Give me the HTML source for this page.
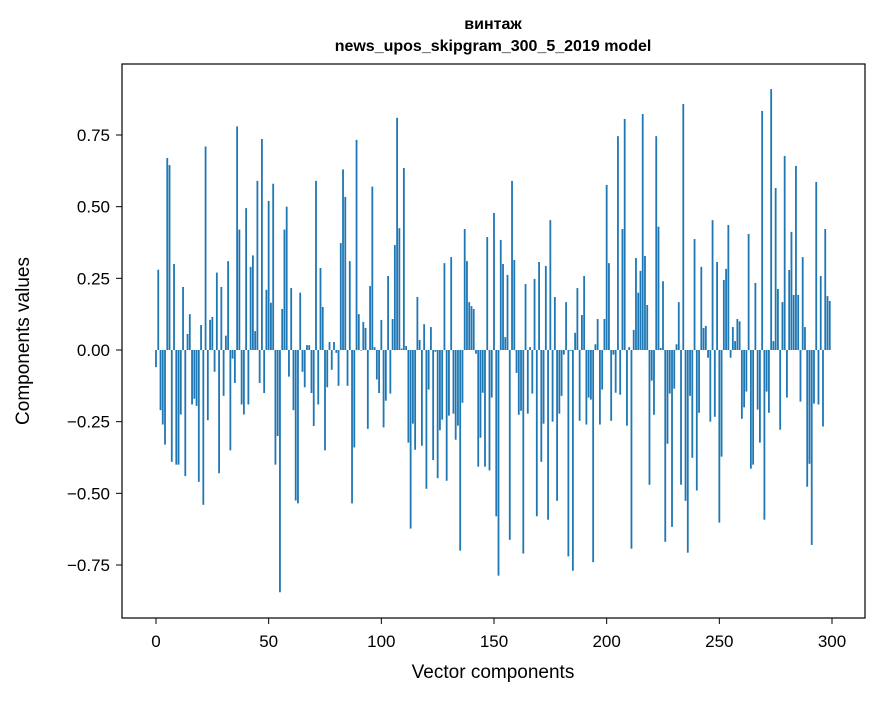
<!DOCTYPE html>
<html><head><meta charset="utf-8"><style>
body{margin:0;background:#fff;}
svg text{font-family:"Liberation Sans","DejaVu Sans",sans-serif;fill:#000;}
</style></head><body>
<svg id="chart" width="880" height="696" xmlns="http://www.w3.org/2000/svg">
<rect x="0" y="0" width="880" height="696" fill="#fff"/>
<text x="493" y="29" text-anchor="middle" font-size="16" font-weight="bold">винтаж</text>
<text x="493" y="51" text-anchor="middle" font-size="16" font-weight="bold">news_upos_skipgram_300_5_2019 model</text>
<g id="bars"></g>
<rect x="122" y="64" width="743" height="554" fill="none" stroke="#000" stroke-width="1.2"/>
<g id="xt"></g>
<g id="yt"></g>
<text x="493" y="678" text-anchor="middle" font-size="19">Vector components</text>
<text transform="translate(29,341) rotate(-90)" text-anchor="middle" font-size="19">Components values</text>
</svg>
<script>
const values = [
-0.06,0.28,-0.21,-0.26,-0.33,0.67,0.645,-0.39,0.30,-0.40,
-0.40,-0.225,0.22,-0.44,0.056,0.125,-0.19,-0.17,-0.195,-0.46,
0.087,-0.54,0.71,-0.245,0.105,0.115,-0.076,0.27,-0.43,0.22,
-0.16,0.05,0.31,-0.35,-0.03,-0.115,0.78,0.42,-0.19,-0.225,
0.495,-0.19,0.29,0.33,0.066,0.59,-0.115,0.736,-0.15,0.21,
0.52,0.165,0.58,-0.40,-0.30,-0.845,0.143,0.42,0.50,-0.093,
0.216,-0.21,-0.525,-0.535,0.2,-0.076,-0.13,0.017,0.017,-0.15,
-0.265,0.59,-0.19,0.286,0.15,-0.35,-0.13,0.028,-0.069,0.028,
-0.01,-0.125,0.373,0.63,0.534,-0.125,0.31,-0.535,-0.34,0.733,
0.125,-0.002,0.098,0.077,-0.275,0.223,0.57,0.01,-0.103,-0.15,
0.105,-0.27,-0.177,0.258,-0.152,0.108,0.366,0.81,0.425,0.005,
0.635,0.014,-0.323,-0.623,-0.257,-0.348,0.185,0.035,-0.334,0.09,
-0.484,-0.138,0.08,-0.384,-0.006,-0.447,-0.28,-0.243,0.303,-0.456,
-0.229,0.324,-0.222,-0.313,-0.264,-0.70,-0.184,0.422,0.31,0.167,
0.153,0.143,-0.013,-0.407,-0.306,-0.149,-0.407,0.394,-0.42,-0.166,
0.478,-0.58,-0.787,0.384,0.3,0.045,0.262,-0.662,0.59,0.314,
-0.08,-0.226,-0.212,-0.71,0.23,-0.222,0.01,-0.152,0.248,-0.58,
0.307,-0.39,-0.257,0.293,-0.592,0.453,-0.25,0.185,-0.526,-0.222,
-0.16,-0.016,0.167,-0.72,-0.003,-0.77,0.06,0.216,-0.247,0.122,
0.258,-0.26,-0.166,-0.173,-0.74,0.02,0.108,-0.26,-0.138,0.108,
0.576,0.303,-0.247,-0.016,-0.149,0.746,-0.156,0.422,0.806,-0.264,
0.01,-0.693,0.07,0.321,0.2,0.276,0.823,0.328,0.157,-0.47,
-0.107,-0.226,0.746,0.43,0.007,0.24,-0.669,-0.327,-0.152,-0.617,
-0.135,0.02,0.167,-0.47,0.858,-0.526,-0.707,-0.16,-0.376,0.387,
-0.49,-0.219,0.29,0.077,0.084,-0.027,-0.25,0.453,-0.233,0.307,
-0.602,-0.372,0.244,0.283,0.436,-0.027,0.08,0.031,0.108,0.1,
-0.24,-0.2,-0.145,0.405,-0.414,-0.4,0.234,-0.208,-0.323,0.834,
-0.592,-0.145,-0.219,0.91,0.031,0.565,0.213,-0.278,0.167,0.677,
-0.166,0.279,0.412,0.192,0.642,0.192,-0.18,0.324,0.08,-0.477,
-0.397,-0.68,-0.187,0.586,-0.19,0.258,-0.267,0.422,0.188,0.171
];
const xTicks = [0,50,100,150,200,250,300];
const yTicks = [-0.75,-0.5,-0.25,0,0.25,0.5,0.75];
const yTickLabels = ["\u22120.75","\u22120.50","\u22120.25","0.00","0.25","0.50","0.75"];

const NS = "http://www.w3.org/2000/svg";
const X = v => 156 + (v/300)*676;
const Y = v => 350 - v*286.67;
const bars = document.getElementById('bars');
values.forEach((v,i)=>{
  const r = document.createElementNS(NS,'rect');
  
  
  const x0 = X(i-0.4), x1 = X(i+0.4);
  const y0 = Math.min(Y(v),Y(0)), y1 = Math.max(Y(v),Y(0));
  r.setAttribute('x',x0); r.setAttribute('width',x1-x0);
  r.setAttribute('y',y0); r.setAttribute('height',Math.max(y1-y0,0.3));
  r.setAttribute('fill','#1f77b4');
  bars.appendChild(r);
});
const xt = document.getElementById('xt');
xTicks.forEach(t=>{
  const l = document.createElementNS(NS,'line');
  
  
  l.setAttribute('x1',X(t)); l.setAttribute('x2',X(t));
  l.setAttribute('y1',618); l.setAttribute('y2',624);
  l.setAttribute('stroke','#000');
  xt.appendChild(l);
  const tx = document.createElementNS(NS,'text');
  
  
  tx.setAttribute('x',X(t)); tx.setAttribute('y',647);
  tx.setAttribute('text-anchor','middle'); tx.setAttribute('font-size','17');
  tx.textContent = t;
  xt.appendChild(tx);
});
const yt = document.getElementById('yt');
yTicks.forEach((t,k)=>{
  const l = document.createElementNS(NS,'line');
  
  
  l.setAttribute('x1',116); l.setAttribute('x2',122);
  l.setAttribute('y1',Y(t)); l.setAttribute('y2',Y(t));
  l.setAttribute('stroke','#000');
  yt.appendChild(l);
  const tx = document.createElementNS(NS,'text');
  
  
  tx.setAttribute('x',110); tx.setAttribute('y',Y(t)+6);
  tx.setAttribute('text-anchor','end'); tx.setAttribute('font-size','17');
  tx.textContent = yTickLabels[k];
  yt.appendChild(tx);
});
</script>
</body></html>
